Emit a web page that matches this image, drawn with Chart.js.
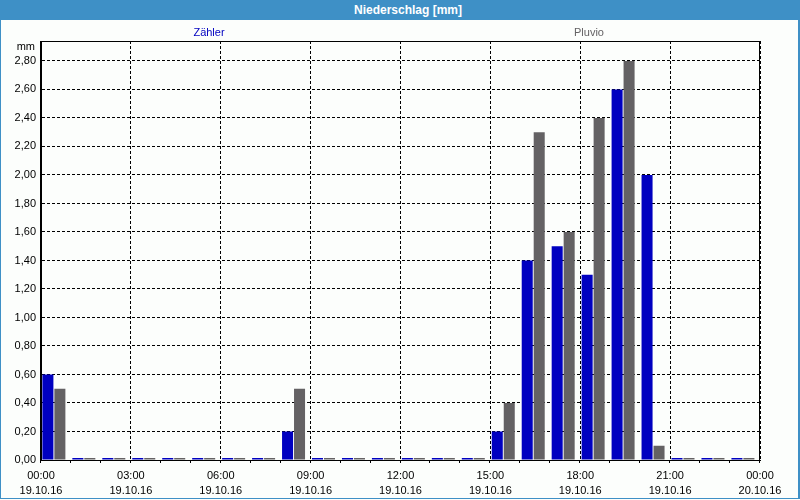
<!DOCTYPE html>
<html>
<head>
<meta charset="utf-8">
<script src="https://cdn.jsdelivr.net/npm/chart.js@4"></script>
<style>
    html, body { margin: 0; padding: 0; background: #ffffff; }
    #wrap { position: relative; width: 800px; height: 500px; background: #fcfefc; overflow: hidden;
            font-family: 'Liberation Sans', Arial, sans-serif; }
    #chart { position: absolute; left: 0; top: 0; }
    #title { position: absolute; left: 0; top: 0; width: 800px; height: 20px; line-height: 20px;
             background: #3e90c6; color: #ffffff; font-weight: bold; font-size: 12px;
             text-align: center; padding-left: 16px; box-sizing: border-box; }
    .leg { position: absolute; top: 25px; font-size: 11px; line-height: 14px; width: 100px;
           text-align: center; }
    #legZ { left: 159px; color: #0000c0; }
    #legP { left: 539px; color: #646264; }
    #frame { position: absolute; left: 0; top: 0; width: 800px; height: 499px; box-sizing: border-box;
             border: 1px solid #3e90c6; border-right-width: 2px; pointer-events: none; }
</style>
</head>
<body>
<div id="wrap">
    <canvas id="chart" width="800" height="500"></canvas>
    <div id="title">Niederschlag [mm]</div>
    <div class="leg" id="legZ">Zähler</div>
    <div class="leg" id="legP">Pluvio</div>
    <div id="frame"></div>
</div>
<script>
Chart.defaults.font.family = "'Liberation Sans', Arial, sans-serif";
Chart.defaults.font.size = 11;
Chart.defaults.color = '#000000';

// hour of day at which each bar starts (19.10.16)
var hours   = [0, 1, 2, 3, 4, 5, 6, 7, 8, 9, 10, 11, 12, 13, 14, 15, 16, 17, 18, 19, 20, 21, 22, 23];
var zaehler = [0.60, 0, 0, 0, 0, 0, 0, 0, 0.20, 0, 0, 0, 0, 0, 0, 0.20, 1.40, 1.50, 1.30, 2.60, 2.00, 0, 0, 0];
var pluvio  = [0.50, 0, 0, 0, 0, 0, 0, 0, 0.50, 0, 0, 0, 0, 0, 0, 0.40, 2.30, 1.60, 2.40, 2.80, 0.10, 0, 0, 0];

var timeLabels = ['00:00', '03:00', '06:00', '09:00', '12:00', '15:00', '18:00', '21:00', '00:00'];
var dateLabels = ['19.10.16', '19.10.16', '19.10.16', '19.10.16', '19.10.16', '19.10.16', '19.10.16', '19.10.16', '20.10.16'];

function points(values) {
    return hours.map(function (h, i) { return { x: h + 0.43, y: values[i] }; });
}

var extras = {
    id: 'extras',
    afterDraw: function (chart) {
        var ctx = chart.ctx, a = chart.chartArea, xs = chart.scales.x;
        ctx.save();
        ctx.strokeStyle = '#000000';
        ctx.lineWidth = 1;
        ctx.setLineDash([]);
        ctx.strokeRect(Math.round(a.left) - 0.5, Math.round(a.top) + 0.5,
                       Math.round(a.right - a.left), Math.round(a.bottom - a.top));
        ctx.beginPath();
        for (var h = 0; h <= 24; h++) {
            var px = Math.round(xs.getPixelForValue(h)) - 0.5;
            ctx.moveTo(px, a.bottom);
            ctx.lineTo(px, a.bottom + 3);
        }
        ctx.stroke();
        ctx.fillStyle = '#000000';
        ctx.font = "11px 'Liberation Sans', Arial, sans-serif";
        ctx.textAlign = 'right';
        ctx.textBaseline = 'middle';
        ctx.fillText('mm', a.left - 6, a.top + 6);
        ctx.restore();
    }
};

new Chart(document.getElementById('chart'), {
    type: 'bar',
    data: {
        datasets: [
            {
                label:           'Zähler',
                data:            points(zaehler),
                backgroundColor: '#0000c0',
                minBarLength:    2
            },
            {
                label:           'Pluvio',
                data:            points(pluvio),
                backgroundColor: '#646264',
                minBarLength:    2
            }
        ]
    },
    options: {
        responsive: false,
        animation: false,
        events: [],
        categoryPercentage: 0.8,
        barPercentage: 0.92,
        layout: { padding: { left: 1, right: 40, top: 41, bottom: 1 } },
        plugins: {
            legend:  { display: false },
            tooltip: { enabled: false }
        },
        scales: {
            x: {
                type: 'linear',
                min: 0,
                max: 24,
                offset: false,
                afterFit: function (s) { s.height = 39; },
                ticks: {
                    stepSize: 3,
                    maxRotation: 0,
                    padding: 9,
                    color: '#000000',
                    font: { size: 11, lineHeight: 1.35 },
                    callback: function (v, i) { return [timeLabels[i], dateLabels[i]]; }
                },
                grid:   { color: '#000000', drawTicks: false, offset: false },
                border: { color: '#000000', dash: [3, 2] }
            },
            y: {
                min: 0,
                max: 2.94,
                afterFit: function (s) { s.width = 40; },
                ticks: {
                    stepSize: 0.2,
                    includeBounds: false,
                    padding: 5,
                    color: '#000000',
                    callback: function (v) { return v.toFixed(2).replace('.', ','); }
                },
                grid:   { color: '#000000', drawTicks: false },
                border: { color: '#000000', dash: [3, 2] }
            }
        }
    },
    plugins: [extras]
});
</script>
</body>
</html>
